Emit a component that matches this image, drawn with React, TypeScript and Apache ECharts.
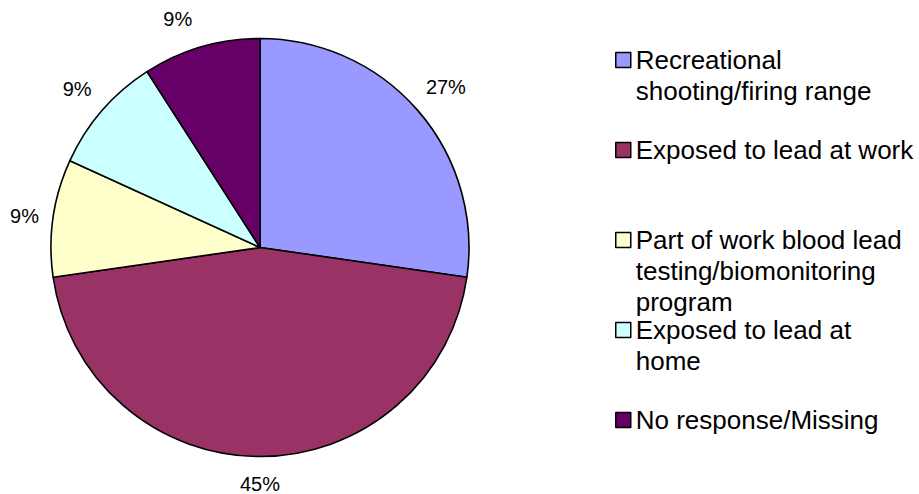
import React, { useEffect, useRef } from "react";
import * as echarts from "echarts";

const categories = [
  "Recreational shooting/firing range",
  "Exposed to lead at work",
  "Part of work blood lead testing/biomonitoring program",
  "Exposed to lead at home",
  "No response/Missing",
];
const legendLabels = [
  "Recreational\nshooting/firing range",
  "Exposed to lead at work",
  "Part of work blood lead\ntesting/biomonitoring\nprogram",
  "Exposed to lead at\nhome",
  "No response/Missing",
];
const values = [3, 5, 1, 1, 1];
const colors = ["#9999FF", "#993366", "#FFFFCC", "#CCFFFF", "#660066"];

const FONT = "'Liberation Sans', Arial, Helvetica, sans-serif";

export default function App() {
  const ref = useRef<HTMLDivElement>(null);
  useEffect(() => {
    if (!ref.current) return;
    const chart = echarts.init(ref.current, null, { renderer: "svg" });
    const data = categories.map((name, i) => ({
      name,
      value: values[i],
      itemStyle: { color: colors[i] },
    }));
    const lh = 31;
    const legends = categories.map((name, i) => {
      const lines = legendLabels[i].split("\n").length;
      const h = (2 * lines - 1) * lh;
      const center = 60 + i * 90;
      // blank lines above keep the marker level with the first text line
      const text = "\n".repeat(lines - 1) + legendLabels[i];
      return {
        show: true,
        orient: "vertical",
        left: 615,
        top: center - h / 2,
        padding: 0,
        itemWidth: 15,
        itemHeight: 15,
        icon: "rect",
        selectedMode: false,
        data: [name],
        formatter: () => text,
        itemStyle: { borderColor: "#000", borderWidth: 1.5 },
        textStyle: {
          fontFamily: FONT,
          fontSize: 26,
          color: "#000",
          lineHeight: lh,
        },
      };
    });
    chart.setOption({
      animation: false,
      backgroundColor: "#fff",
      legend: legends,
      series: [
        {
          type: "pie",
          center: [260, 247.5],
          radius: 209,
          startAngle: 90,
          clockwise: true,
          silent: true,
          label: { show: false },
          labelLine: { show: false },
          itemStyle: { borderColor: "#000", borderWidth: 1.6 },
          data,
        },
        {
          type: "pie",
          center: [260, 247.5],
          radius: [229, 249],
          startAngle: 90,
          clockwise: true,
          silent: true,
          itemStyle: { color: "rgba(0,0,0,0)", borderWidth: 0 },
          label: {
            show: true,
            position: "inside",
            fontFamily: FONT,
            fontSize: 20,
            color: "#000",
            formatter: (p: any) => Math.round(p.percent) + "%",
          },
          labelLine: { show: false },
          labelLayout: (p: any) =>
            p.dataIndex === 4
              ? { dx: -14, dy: 4 }
              : p.dataIndex === 1
              ? { dy: -6 }
              : p.dataIndex === 2
              ? { dx: 4, dy: 3 }
              : p.dataIndex === 0
              ? { dx: 3, dy: -2 }
              : {},
          data: categories.map((name, i) => ({ name, value: values[i] })),
        },
      ],
    });
    return () => chart.dispose();
  }, []);
  return (
    <div
      ref={ref}
      style={{ position: "fixed", left: 0, top: 0, width: 919, height: 494, background: "#fff" }}
    />
  );
}
